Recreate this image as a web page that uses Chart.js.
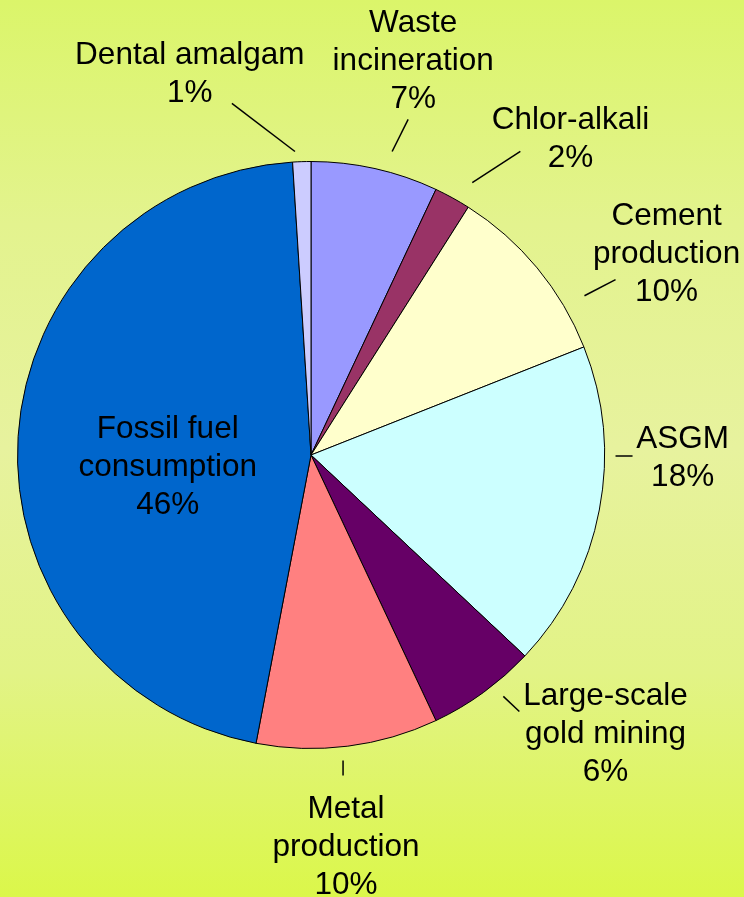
<!DOCTYPE html>
<html>
<head>
<meta charset="utf-8">
<script src="https://cdn.jsdelivr.net/npm/chart.js@4.4.1/dist/chart.umd.min.js"></script>
<style>
    html, body { margin: 0; padding: 0; }
    body {
        width: 744px;
        height: 897px;
        overflow: hidden;
        background: linear-gradient(to bottom, #dbf56a 0%, #e3f38e 25%, #e7f29e 50%, #e2f386 75%, #dbf74a 100%);
    }
    #grafico { display: block; }
</style>
</head>
<body>
<canvas id="grafico" width="744" height="897"></canvas>
<script>
// valores do gráfico (sentido horário a partir do topo)
const fontes = [
    ["Waste", "incineration"],
    ["Chlor-alkali"],
    ["Cement", "production"],
    ["ASGM"],
    ["Large-scale", "gold mining"],
    ["Metal", "production"],
    ["Fossil fuel", "consumption"],
    ["Dental amalgam"]
];
const percentagens = [7, 2, 10, 18, 6, 10, 46, 1];
const cores = ["#9999ff", "#993366", "#ffffcc", "#ccffff", "#660066", "#ff8080", "#0066cc", "#ccccff"];

// posição dos rótulos (px relativos ao centro, para raio 293)
const posRotulos = [
    { x: 102, y: -422, linha: [97, -335, 81, -303] },
    { x: 259, y: -325, linha: [209, -303, 161, -272] },
    { x: 355, y: -230, linha: [304, -175, 273, -159] },
    { x: 371, y: -7, linha: [304, 1, 321, 1] },
    { x: 294, y: 250, linha: [192, 241, 208, 256] },
    { x: 35, y: 362, linha: [32, 305, 32, 320] },
    { x: -143, y: -17, linha: null },
    { x: -121, y: -390, linha: [-79, -351, -16, -303] }
];

const tamanhoFonte = 31.5;
const alturaLinha = 38;

const rotulosPlugin = {
    id: "rotulos",
    afterDraw(chart) {
        const ctx = chart.ctx;
        const arcos = chart.getDatasetMeta(0).data;
        const cx = arcos[0].x;
        const cy = arcos[0].y;
        const k = arcos[0].outerRadius / 293;

        ctx.save();
        ctx.font = tamanhoFonte + "px 'Liberation Sans', Arial, sans-serif";
        ctx.fillStyle = "#000";
        ctx.textAlign = "center";
        ctx.textBaseline = "alphabetic";
        ctx.strokeStyle = "#000";
        ctx.lineWidth = 1.5;

        percentagens.forEach((v, i) => {
            const p = posRotulos[i];
            const linhas = fontes[i].concat([v + "%"]);
            linhas.forEach((t, j) => {
                ctx.fillText(t, cx + p.x * k, cy + p.y * k + j * alturaLinha);
            });
            if (p.linha) {
                ctx.beginPath();
                ctx.moveTo(cx + p.linha[0] * k, cy + p.linha[1] * k);
                ctx.lineTo(cx + p.linha[2] * k, cy + p.linha[3] * k);
                ctx.stroke();
            }
        });
        ctx.restore();
    }
};

new Chart(document.getElementById("grafico"), {
    type: "pie",
    data: {
        labels: fontes.map(f => f.join(" ")),
        datasets: [{
            data: percentagens,
            backgroundColor: cores,
            borderColor: "#000",
            borderWidth: 1
        }]
    },
    options: {
        responsive: false,
        animation: false,
        layout: {
            padding: { left: 17, right: 139, top: 161, bottom: 148 }
        },
        plugins: {
            legend: { display: false },
            tooltip: { enabled: false }
        }
    },
    plugins: [rotulosPlugin]
});
</script>
</body>
</html>
